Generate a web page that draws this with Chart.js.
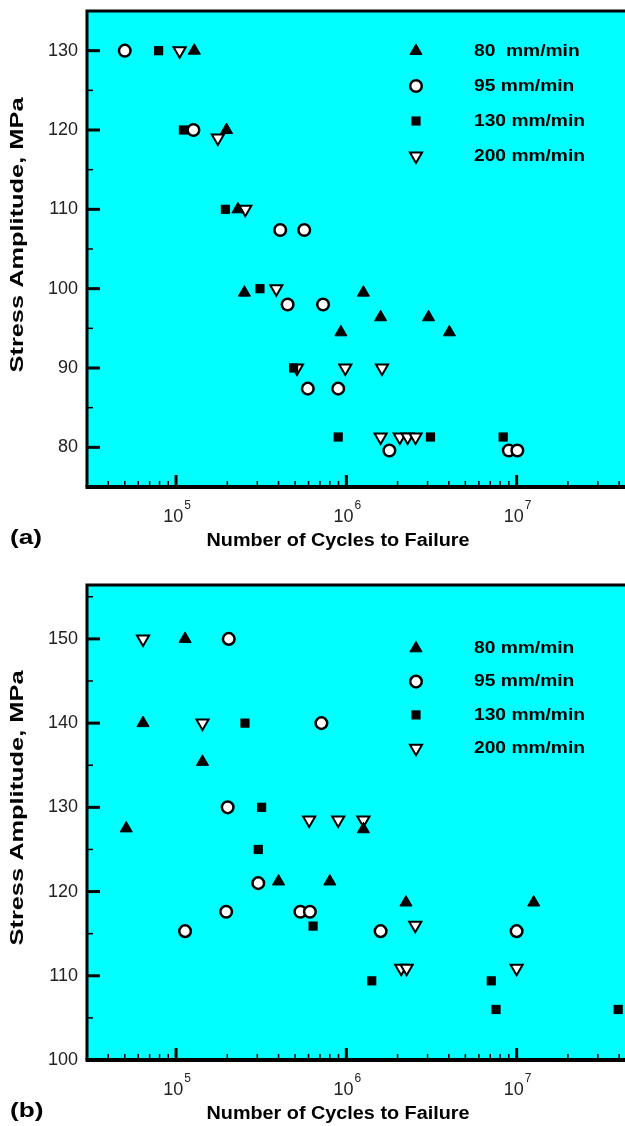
<!DOCTYPE html>
<html>
<head>
<meta charset="utf-8">
<script src="https://cdn.jsdelivr.net/npm/chart.js@4.4.0/dist/chart.umd.min.js"></script>
<style>
html, body { margin: 0; padding: 0; background: #fff; overflow: hidden; width: 625px; height: 1126px; }
.panel { position: absolute; left: 0; width: 625px; height: 573px; }
#pa { top: 0; }
#pb { top: 573px; }
</style>
</head>
<body>
<div class="panel" id="pa"><canvas id="chartA" width="625" height="573"></canvas></div>
<div class="panel" id="pb"><canvas id="chartB" width="625" height="573"></canvas></div>
<script>
// ---- panel (a) data ----
var a80Cycles  = [1.28e5, 1.98e5, 2.31e5, 2.52e5, 1.26e6, 9.29e5, 1.59e6, 3.04e6, 4.03e6];
var a80Stress  = [130, 120, 110, 99.5, 99.5, 94.5, 96.4, 96.4, 94.5];
var a95Cycles  = [5.0e4, 1.265e5, 4.09e5, 5.66e5, 4.52e5, 7.3e5, 5.94e5, 8.96e5, 1.79e6, 9.0e6, 1.01e7];
var a95Stress  = [130, 120, 107.4, 107.4, 98, 98, 87.4, 87.4, 79.6, 79.6, 79.6];
var a130Cycles = [7.9e4, 1.105e5, 1.95e5, 3.11e5, 4.9e5, 8.96e5, 3.12e6, 8.34e6];
var a130Stress = [130, 120, 110, 100, 90, 81.3, 81.3, 81.3];
var a200Cycles = [1.05e5, 1.76e5, 2.55e5, 3.88e5, 5.13e5, 9.86e5, 1.62e6, 1.59e6, 2.06e6, 2.29e6, 2.55e6];
var a200Stress = [130, 119, 110, 100, 90, 90, 90, 81.3, 81.3, 81.3, 81.3];
var aLabels = ['80  mm/min', '95 mm/min', '130 mm/min', '200 mm/min'];

// ---- panel (b) data ----
var b80Cycles  = [1.13e5, 6.4e4, 1.43e5, 5.1e4, 1.26e6, 4.0e5, 8.0e5, 2.24e6, 1.26e7];
var b80Stress  = [150, 140, 135.4, 127.5, 127.4, 121.2, 121.2, 118.7, 118.7];
var b95Cycles  = [2.04e5, 7.14e5, 2.01e5, 3.04e5, 1.97e5, 5.37e5, 6.11e5, 1.13e5, 1.59e6, 1.0e7];
var b95Stress  = [150, 140, 130, 121, 117.6, 117.6, 117.6, 115.3, 115.3, 115.3];
var b130Cycles = [2.54e5, 3.18e5, 3.04e5, 6.38e5, 1.41e6, 7.1e6, 7.57e6, 3.95e7];
var b130Stress = [140, 130, 125, 115.9, 109.4, 109.4, 106, 106];
var b200Cycles = [6.4e4, 1.43e5, 6.05e5, 8.96e5, 1.26e6, 2.54e6, 2.1e6, 2.26e6, 1.0e7];
var b200Stress = [150, 140, 128.5, 128.5, 128.5, 116, 110.9, 110.9, 110.9];
var bLabels = ['80 mm/min', '95 mm/min', '130 mm/min', '200 mm/min'];

// ---- axes ----
var xMajorTicks = [1e5, 1e6, 1e7];
var xMajorExp = ['5', '6', '7'];
var xMinorTicks = [4e4, 5e4, 6e4, 7e4, 8e4, 9e4,
                   2e5, 3e5, 4e5, 5e5, 6e5, 7e5, 8e5, 9e5,
                   2e6, 3e6, 4e6, 5e6, 6e6, 7e6, 8e6, 9e6,
                   2e7, 3e7, 4e7];
var yTicksA = [75, 80, 85, 90, 95, 100, 105, 110, 115, 120, 125, 130, 135];
var yTicksB = [100, 105, 110, 115, 120, 125, 130, 135, 140, 145, 150, 155];
var xTitle = 'Number of Cycles to Failure';
var yTitle = 'Stress Amplitude, MPa';

var FONT = "'Liberation Sans', Arial, Helvetica, sans-serif";

function pts(xs, ys) {
	return xs.map(function(x, i) { return { x: x, y: ys[i] }; });
}

function styles() {
	return [
		{ pointStyle: 'triangle', radius: 7, rotation: 0, backgroundColor: '#000', borderColor: '#000', borderWidth: 1 },
		{ pointStyle: 'circle', radius: 5.8, rotation: 0, backgroundColor: '#fff', borderColor: '#000', borderWidth: 2.5 },
		{ pointStyle: 'rect', radius: 6.5, rotation: 0, backgroundColor: '#000', borderColor: '#000', borderWidth: 0 },
		{ pointStyle: 'triangle', radius: 7, rotation: 180, backgroundColor: '#fff', borderColor: '#000', borderWidth: 2 }
	];
}

// text stretched along its own direction to a given length
function fitText(ctx, text, cx, cy, length, rot) {
	var w = ctx.measureText(text).width;
	ctx.save();
	ctx.translate(cx, cy);
	if (rot) ctx.rotate(rot);
	ctx.scale(length / w, 1);
	ctx.textAlign = 'center';
	ctx.textBaseline = 'middle';
	ctx.fillText(text, 0, 0);
	ctx.restore();
}

var framePlugin = {
	id: 'frame',
	beforeDraw: function(chart) {
		var ctx = chart.ctx, a = chart.chartArea;
		ctx.save();
		ctx.fillStyle = '#00ffff';
		ctx.fillRect(a.left, a.top, a.right - a.left, a.bottom - a.top);
		ctx.restore();
	},
	beforeDatasetsDraw: function(chart) {
		var ctx = chart.ctx, a = chart.chartArea;
		var xs = chart.scales.x, ys = chart.scales.y;
		var yt = chart.options.plugins.frame.yTicks;
		ctx.save();
		ctx.strokeStyle = '#000';
		// y ticks (inward)
		yt.forEach(function(v) {
			var y = ys.getPixelForValue(v);
			var major = v % 10 === 0;
			ctx.lineWidth = major ? 3 : 1.5;
			ctx.beginPath();
			ctx.moveTo(a.left, y);
			ctx.lineTo(a.left + (major ? 13 : 6), y);
			ctx.stroke();
		});
		// x ticks (inward)
		xMajorTicks.forEach(function(v) {
			var x = xs.getPixelForValue(v);
			ctx.lineWidth = 3;
			ctx.beginPath();
			ctx.moveTo(x, a.bottom);
			ctx.lineTo(x, a.bottom - 12);
			ctx.stroke();
		});
		xMinorTicks.forEach(function(v) {
			var x = xs.getPixelForValue(v);
			ctx.lineWidth = 1.5;
			ctx.beginPath();
			ctx.moveTo(x, a.bottom);
			ctx.lineTo(x, a.bottom - 6);
			ctx.stroke();
		});
		// frame: top, left, bottom (right side is cut off)
		ctx.lineWidth = 3;
		ctx.beginPath();
		ctx.moveTo(chart.width, a.top);
		ctx.lineTo(a.left, a.top);
		ctx.lineTo(a.left, a.bottom);
		ctx.stroke();
		ctx.lineWidth = 4;
		ctx.beginPath();
		ctx.moveTo(a.left - 1.5, a.bottom);
		ctx.lineTo(chart.width, a.bottom);
		ctx.stroke();
		ctx.restore();
	},
	afterDraw: function(chart) {
		var ctx = chart.ctx, a = chart.chartArea;
		var o = chart.options.plugins.frame;
		var xs = chart.scales.x;
		ctx.save();
		ctx.fillStyle = '#000';

		// x tick labels, 10 with superscript exponent
		xMajorTicks.forEach(function(v, i) {
			var x = xs.getPixelForValue(v);
			ctx.fillStyle = '#222';
			ctx.textBaseline = 'alphabetic';
			ctx.textAlign = 'left';
			ctx.font = '18px ' + FONT;
			var w1 = ctx.measureText('10').width;
			ctx.font = '12px ' + FONT;
			var w2 = ctx.measureText(xMajorExp[i]).width;
			var x0 = x + 1 - (w1 + w2 + 1) / 2;
			ctx.font = '18px ' + FONT;
			ctx.fillText('10', x0, a.bottom + 35);
			ctx.font = '12px ' + FONT;
			ctx.fillText(xMajorExp[i], x0 + w1 + 1, a.bottom + 22);
		});

		// axis titles
		ctx.fillStyle = '#000';
		ctx.font = 'bold 18px ' + FONT;
		fitText(ctx, xTitle, 338, a.bottom + 54, 263, 0);
		fitText(ctx, yTitle, 18.5, 235, 275, -Math.PI / 2);

		// legend
		ctx.font = 'bold 17px ' + FONT;
		var sx = 111 / ctx.measureText(chart.data.datasets[3].label).width;
		chart.data.datasets.forEach(function(ds, i) {
			var y = o.legendTop + i * o.legendStep;
			ctx.fillStyle = ds.backgroundColor;
			ctx.strokeStyle = ds.borderColor;
			ctx.lineWidth = ds.borderWidth;
			Chart.helpers.drawPoint(ctx, {
				pointStyle: ds.pointStyle, rotation: ds.rotation,
				radius: ds.pointRadius, borderWidth: ds.borderWidth
			}, 416, y);
			ctx.fillStyle = '#000';
			ctx.save();
			ctx.translate(474, y);
			ctx.scale(sx, 1);
			ctx.textBaseline = 'middle';
			ctx.textAlign = 'left';
			ctx.fillText(ds.label, 0, 0);
			ctx.restore();
		});

		// panel letter
		ctx.font = 'bold 21px ' + FONT;
		ctx.fillStyle = '#000';
		ctx.save();
		ctx.translate(10, 538);
		ctx.scale(1.25, 1);
		ctx.textBaseline = 'middle';
		ctx.textAlign = 'left';
		ctx.fillText(o.letter, 0, 0);
		ctx.restore();
		ctx.restore();
	}
};

function makeChart(id, sets, labels, yMin, yMax, yTicks, top, letter, legendTop, legendStep) {
	var st = styles();
	var datasets = sets.map(function(d, i) {
		return {
			label: labels[i],
			data: d,
			pointStyle: st[i].pointStyle,
			rotation: st[i].rotation,
			pointRadius: st[i].radius,
			pointHoverRadius: st[i].radius,
			backgroundColor: st[i].backgroundColor,
			borderColor: st[i].borderColor,
			borderWidth: st[i].borderWidth,
			showLine: false,
			clip: false
		};
	});
	return new Chart(document.getElementById(id), {
		type: 'scatter',
		data: { datasets: datasets },
		options: {
			responsive: false,
			animation: false,
			devicePixelRatio: 1,
			layout: { autoPadding: false, padding: { top: top, left: 0, right: 0, bottom: 0 } },
			plugins: {
				legend: { display: false },
				tooltip: { enabled: false },
				frame: { yTicks: yTicks, letter: letter, legendTop: legendTop, legendStep: legendStep }
			},
			scales: {
				x: {
					type: 'logarithmic',
					min: 3e4,
					max: 4.33e7,
					grid: { display: false, drawTicks: false },
					border: { display: false },
					ticks: { display: false },
					afterFit: function(s) {
						s.height = 86;
						s.paddingLeft = 0; s.paddingRight = 0;
						s.paddingTop = 0; s.paddingBottom = 0;
					}
				},
				y: {
					type: 'linear',
					min: yMin,
					max: yMax,
					grid: { display: false, drawTicks: false },
					border: { display: false },
					afterBuildTicks: function(s) {
						s.ticks = yTicks.map(function(v) { return { value: v }; });
					},
					afterFit: function(s) {
						s.width = 87;
						s.paddingLeft = 0; s.paddingRight = 0;
						s.paddingTop = 0; s.paddingBottom = 0;
					},
					ticks: {
						padding: 9,
						color: '#222',
						font: { family: FONT, size: 18 },
						callback: function(v) { return v % 10 === 0 ? String(v) : ''; }
					}
				}
			}
		},
		plugins: [framePlugin]
	});
}

makeChart('chartA',
	[pts(a80Cycles, a80Stress), pts(a95Cycles, a95Stress), pts(a130Cycles, a130Stress), pts(a200Cycles, a200Stress)],
	aLabels, 75, 135, yTicksA, 11, '(a)', 51, 35);

makeChart('chartB',
	[pts(b80Cycles, b80Stress), pts(b95Cycles, b95Stress), pts(b130Cycles, b130Stress), pts(b200Cycles, b200Stress)],
	bLabels, 100, 156.4, yTicksB, 12, '(b)', 75.3, 33.3);
</script>
</body>
</html>
